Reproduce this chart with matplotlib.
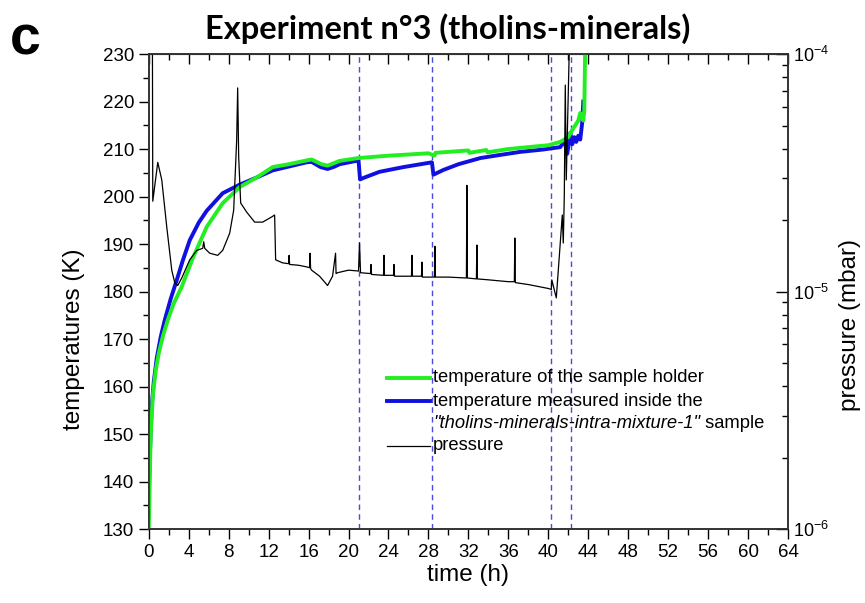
import matplotlib
matplotlib.use("Agg")
import matplotlib.pyplot as plt
import numpy as np
from matplotlib.ticker import MultipleLocator, LogLocator, NullFormatter

plt.rcParams["font.family"] = ["Liberation Sans", "DejaVu Sans"]

############ Daten ##############
# temperature of the sample holder (green)
t_holder = [0.0, 0.1, 0.2, 0.4, 0.7, 1.0, 1.4, 1.9, 2.5, 3.3, 4.4, 5.8, 7.4, 9.1, 10.8,
            12.4, 14.0, 15.8, 16.3, 17.3, 17.9, 18.5, 19.1, 21.0, 24.0, 28.0, 28.6,
            28.7, 32.0, 32.1, 33.8, 33.9, 36.0, 40.0, 41.2, 42.0, 42.4, 43.0, 43.2,
            43.5, 43.6, 43.7]
T_holder = [130.0, 142.0, 150.0, 158.0, 163.5, 167.0, 170.5, 174.0, 177.5, 181.0, 187.0,
            193.6, 198.6, 202.0, 204.0, 206.2, 206.8, 207.6, 207.8, 206.8, 206.5, 207.0,
            207.5, 208.1, 208.6, 209.1, 208.6, 209.2, 209.7, 209.2, 209.8, 209.3, 210.0,
            210.8, 211.5, 212.5, 214.0, 216.0, 217.6, 216.0, 218.0, 232.0]

# temperature inside the "tholins-minerals-intra-mixture-1" sample (blue)
t_sample = [0.0, 0.1, 0.2, 0.3, 0.5, 0.8, 1.2, 1.6, 2.2, 2.8, 3.4, 4.1, 5.0, 5.8, 7.4,
            9.1, 10.8, 12.4, 14.0, 15.8, 16.3, 17.2, 17.9, 18.6, 19.1, 21.0, 21.15,
            21.6, 23.1, 25.5, 28.35, 28.5, 29.5, 31.0, 33.2, 35.0, 37.2, 39.5, 41.2,
            41.6, 41.9, 42.2, 42.4, 42.6, 42.8, 43.0, 43.2, 43.4, 43.5]
T_sample = [136.0, 145.0, 151.0, 156.0, 161.0, 166.0, 170.5, 174.0, 178.5, 182.4, 186.5,
            190.8, 194.5, 197.0, 200.7, 202.5, 204.0, 205.5, 206.3, 207.2, 207.3, 206.2,
            205.8, 206.3, 206.8, 207.6, 203.6, 204.0, 205.2, 206.2, 207.2, 204.6, 205.6,
            206.8, 208.1, 208.7, 209.4, 209.9, 210.4, 211.8, 209.0, 213.4, 211.0, 212.5,
            211.5, 212.8, 212.0, 215.7, 220.0]

# pressure (black, mbar)
t_press = [0.0, 0.35, 0.4, 0.9, 1.3, 1.8, 2.3, 2.6, 2.9, 3.3, 4.1, 4.8, 5.4, 5.5, 5.6,
           6.1, 6.9, 7.4, 8.1, 8.5, 8.8, 8.9, 9.0, 9.2, 9.8, 10.6, 11.4, 12.3, 12.6,
           12.7, 13.4, 14.0, 14.05, 14.1, 15.0, 15.8, 16.1, 16.15, 16.2, 16.3, 17.1,
           17.9, 18.4, 18.7, 18.75, 18.9, 20.0, 21.0, 21.1, 21.2, 22.2, 22.25, 22.3,
           23.5, 23.55, 23.6, 24.5, 24.55, 24.6, 26.3, 26.35, 26.4, 27.3, 27.35, 27.4,
           28.6, 28.65, 28.7, 30.0, 31.8, 31.85, 31.9, 32.8, 32.85, 32.9, 34.0, 36.0,
           36.6, 36.65, 36.7, 38.0, 40.0, 40.3, 40.35, 40.8, 41.4, 41.5, 41.6, 41.7,
           41.8, 42.1, 42.3]
p_press = [2.0e-4, 2.0e-4, 2.4e-5, 3.5e-5, 2.95e-5, 1.87e-5, 1.23e-5, 1.09e-5, 1.06e-5,
           1.14e-5, 1.36e-5, 1.49e-5, 1.52e-5, 1.62e-5, 1.52e-5, 1.45e-5, 1.42e-5,
           1.49e-5, 1.76e-5, 2.2e-5, 4.35e-5, 7.2e-5, 3.7e-5, 2.36e-5, 2.16e-5,
           1.96e-5, 1.96e-5, 2.06e-5, 2.1e-5, 1.36e-5, 1.32e-5, 1.31e-5, 1.42e-5,
           1.3e-5, 1.29e-5, 1.27e-5, 1.26e-5, 1.45e-5, 1.25e-5, 1.23e-5, 1.16e-5,
           1.06e-5, 1.16e-5, 1.45e-5, 1.19e-5, 1.2e-5, 1.23e-5, 1.22e-5, 1.6e-5,
           1.2e-5, 1.19e-5, 1.3e-5, 1.18e-5, 1.17e-5, 1.42e-5, 1.17e-5, 1.17e-5,
           1.3e-5, 1.16e-5, 1.16e-5, 1.42e-5, 1.16e-5, 1.16e-5, 1.33e-5, 1.15e-5,
           1.15e-5, 1.55e-5, 1.15e-5, 1.15e-5, 1.14e-5, 2.8e-5, 1.14e-5, 1.13e-5,
           1.57e-5, 1.13e-5, 1.12e-5, 1.1e-5, 1.1e-5, 1.68e-5, 1.09e-5, 1.07e-5,
           1.03e-5, 1.02e-5, 1.12e-5, 9.4e-6, 2.1e-5, 1.6e-5, 2.5e-5, 7.4e-5, 2.95e-5,
           1.05e-4, 2.0e-4]

# Zeitpunkte der gestrichelten Linien
phase_t = [21.0, 28.4, 40.3, 42.3]

############ Plot ##############
fig = plt.figure(figsize=(8.65, 6.03), dpi=100)
ax = fig.add_axes([0.172, 0.1227, 0.739, 0.7877])
ax2 = ax.twinx()

for tv in phase_t:
    ax.axvline(tv, color="#4a4ae0", lw=1.0, ls=(0, (4, 3)), zorder=1)

ax.plot(t_sample, T_sample, color="#1010e0", lw=2.8, zorder=3)
ax.plot(t_holder, T_holder, color="#22ee22", lw=2.8, zorder=4)
ax2.plot(t_press, p_press, color="black", lw=0.9)

ax.set_xlim(0, 64)
ax.set_ylim(130, 230)
ax2.set_yscale("log")
ax2.set_ylim(1e-6, 1e-4)

ax.xaxis.set_major_locator(MultipleLocator(4))
ax.xaxis.set_minor_locator(MultipleLocator(2))
ax.yaxis.set_major_locator(MultipleLocator(10))
ax.yaxis.set_minor_locator(MultipleLocator(5))
ax.tick_params(axis="x", which="both", direction="out", top=False, labelsize=13.5, pad=4)
ax.tick_params(axis="x", which="major", length=7, width=1)
ax.tick_params(axis="x", which="minor", length=4, width=1)
ax.tick_params(axis="y", which="both", direction="out", right=False, labelsize=13.5)
ax.tick_params(axis="y", which="major", length=7, width=1)
ax.tick_params(axis="y", which="minor", length=4, width=1)

# obere Achse mit Ticks nach innen
axt = ax.secondary_xaxis("top")
axt.xaxis.set_major_locator(MultipleLocator(4))
axt.xaxis.set_minor_locator(MultipleLocator(2))
axt.tick_params(axis="x", which="both", direction="in", labeltop=False)
axt.tick_params(axis="x", which="major", length=7, width=1)
axt.tick_params(axis="x", which="minor", length=4, width=1)

ax2.yaxis.set_major_locator(LogLocator(base=10))
ax2.yaxis.set_minor_locator(LogLocator(base=10, subs=np.arange(2, 10)))
ax2.yaxis.set_minor_formatter(NullFormatter())
ax2.tick_params(axis="y", which="both", direction="in", labelsize=13)
ax2.tick_params(axis="y", which="major", length=9, width=1)
ax2.tick_params(axis="y", which="minor", length=4, width=1)

for a in (ax, ax2):
    for s in a.spines.values():
        s.set_linewidth(1.2)
        s.set_color("#333333")

ax.set_xlabel("time (h)", fontsize=17.5, labelpad=2)
ax.set_ylabel("temperatures (K)", fontsize=17.5)
ax.yaxis.set_label_coords(-0.1, 0.40)
ax2.set_ylabel("pressure (mbar)", fontsize=17.5)
ax2.yaxis.set_label_coords(1.08, 0.43)

fig.text(0.517, 0.953, "Experiment n°3 (tholins-minerals)", ha="center", va="center",
         fontsize=23.5, fontweight="bold", family=["Lato", "DejaVu Sans"])
fig.text(0.011, 0.933, "c", ha="left", va="center", fontsize=40, fontweight="heavy")

# Legende
lx0, lx1, tx = 0.372, 0.44, 0.445
entries = [("#22ee22", 2.8, 0.318, "temperature of the sample holder"),
           ("#1010e0", 2.8, 0.269, "temperature measured inside the"),
           ("black", 0.9, 0.175, "pressure")]
for col, lw, yy, lab in entries:
    ax.plot([lx0, lx1], [yy, yy], color=col, lw=lw, transform=ax.transAxes, zorder=5)
    ax.text(tx, yy, lab, transform=ax.transAxes, va="center", ha="left", fontsize=13.2, zorder=5)
it = ax.text(tx, 0.223, '"tholins-minerals-intra-mixture-1"', transform=ax.transAxes,
             va="center", ha="left", fontsize=13.2, style="italic", zorder=5)
ax.annotate(" sample", xy=(1, 0.5), xycoords=it, va="center", ha="left", fontsize=13.2)

fig.savefig("out.png", dpi=100)
